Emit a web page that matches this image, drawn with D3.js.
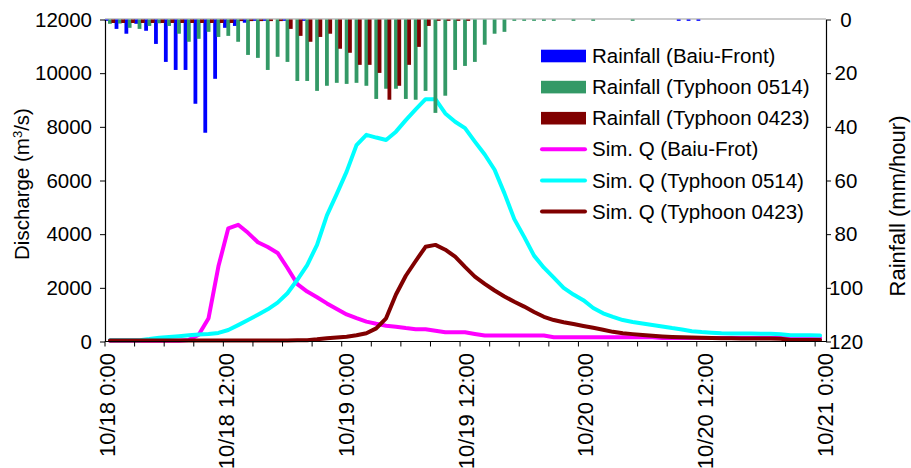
<!DOCTYPE html>
<html><head><meta charset="utf-8">
<script src="https://cdn.jsdelivr.net/npm/d3@7"></script>
<style>
body{margin:0;background:#fff}
svg{display:block}
text{font-family:"Liberation Sans",Arial,sans-serif;fill:#000}
</style>
</head><body>
<svg id="c" width="911" height="468"></svg>
<script>
// ---------- DATA ----------
const hours = d3.range(73); // 10/18 0:00 ... 10/21 0:00, hourly
const tickHours = [0, 12, 24, 36, 48, 60, 72];
const tickLabels = ["10/18 0:00", "10/18 12:00", "10/19 0:00", "10/19 12:00", "10/20 0:00", "10/20 12:00", "10/21 0:00"];
const leftTicks = [0, 2000, 4000, 6000, 8000, 10000, 12000];
const rightTicks = [0, 20, 40, 60, 80, 100, 120];

// Rainfall (mm/hour)
const rainBaiu = [0.5,3.5,5.3,1.6,4.2,9.1,15.8,18.8,18.8,31.4,42.2,22.1,3.1,2.4,1.2,0.5,0.5,0,0.5,0,0.5,
  0,0,0,0,0,0,0,0,0,0,0,0,0,0,0,0,0,0,0,0,0,0,0,0,0,0,0,0,0,0,0,0,0,0,0,0,0,
  0.5,0.5,0.5,
  0,0,0,0,0,0,0,0,0,0,0,0];
const rain0514 = [1.6,1.5,3.1,3.5,2.4,1.4,2.4,5.3,8.3,7.2,
  4.6,6.5,6.1,8.3,13.2,14.3,18.8,13.9,15.8,22.9,
  22.9,26.6,24.7,23.6,24.0,23.6,24.7,29.6,25.8,25.8,
  29.6,29.9,26.6,34.8,28.4,18.8,17.3,15.8,9.4,5.3,
  4.6,0.5,0.5,0.5,0.5,0.5,0,0.5,0,0.5,
  0,0,0,0.5,
  0,0,0,0,0,0,0,0,0,0,0,0,0,0,0,0,0,0,0];
const rain0423 = [1.3,1.3,1.3,1.3,1.3,1.3,1.3,1.3,1.3,1.3,1.3,1.3,1.3,
  0.6,0.6,0.6,0.6,0.6,
  3.5,6.1,8.3,6.5,5.3,10.9,12.4,16.9,16.9,19.9,29.9,24.7,16.9,10.2,2.4,
  0.5,0.5,0.5,0.5,
  0,0,0,0,0,0,0,0,0,0,0,0,0,0,0,0,0,0,0,0,0,0,0,0,0,0,0,0,0,0,0,0,0,0,0,0];

// Simulated discharge (m3/s)
const qBaiu = [30,30,30,30,30,30,30,30,60,250,
  870,2800,4220,4350,4050,3700,3520,3300,2740,2140,
  1860,1650,1420,1210,1010,870,740,660,590,550,
  500,460,455,400,345,345,345,280,
  220,220,220,220,220,220,220,
  160,160,160,160,160,160,160,160,160,160,160,
  130,130,130,130,130,130,130,130,130,130,130,130,130,130,130,130,130];
const q0514 = [50,50,50,50,90,140,170,200,230,260,
  280,320,430,610,800,1000,1200,1450,1800,2300,
  2850,3600,4700,5500,6330,7320,7700,7600,7510,7820,
  8250,8650,9030,9030,8500,8190,7950,7450,6970,6400,
  5520,4560,3900,3200,2750,2380,2000,1750,1540,1250,
  1050,920,800,730,670,615,560,500,450,380,
  350,330,305,300,300,295,290,285,270,235,
  230,230,225];
const q0423 = [40,40,40,40,40,40,40,40,40,40,40,40,40,40,40,40,40,40,40,45,
  50,80,120,150,180,230,305,490,865,1750,
  2450,3000,3530,3600,3420,3160,2780,2420,2150,1900,
  1680,1480,1300,1100,920,800,720,650,580,510,
  440,360,310,275,245,215,190,170,155,145,
  138,128,120,118,115,112,110,108,100,60,
  56,56,56];

const barSeries = [
  {name: "Rainfall (Baiu-Front)", values: rainBaiu, color: "#0000FF", off: -3.3},
  {name: "Rainfall (Typhoon 0514)", values: rain0514, color: "#339966", off: 0},
  {name: "Rainfall (Typhoon 0423)", values: rain0423, color: "#800000", off: 3.3}
];
const lineSeries = [
  {name: "Sim. Q (Baiu-Frot)", values: qBaiu, color: "#FF00FF"},
  {name: "Sim. Q (Typhoon 0514)", values: q0514, color: "#00FFFF"},
  {name: "Sim. Q (Typhoon 0423)", values: q0423, color: "#800000"}
];

// ---------- LAYOUT ----------
const X0 = 105, X1 = 826, Y0 = 19.5, Y1 = 341.5;
const FS = 20.5;
const svg = d3.select("#c");

const xb = d3.scaleBand().domain(hours).range([X0, X1 - 1]).paddingInner(0).paddingOuter(0);
const xc = i => xb(i) + xb.bandwidth() / 2;
const xl = d3.scaleLinear().domain([0, 72]).range([107, 825]);
const yL = d3.scaleLinear().domain([0, 12000]).range([Y1, Y0]);
const yR = d3.scaleLinear().domain([0, 120]).range([Y0, Y1]);

// top border of plot area
svg.append("line").attr("x1", X0).attr("x2", X1).attr("y1", Y0 - 0.5).attr("y2", Y0 - 0.5)
  .attr("stroke", "#999").attr("stroke-width", 1.2);

// lines
const line = d3.line().x((d, i) => xc(i)).y(d => yL(d));
svg.append("g").selectAll("path").data(lineSeries).join("path")
  .attr("d", d => line(d.values))
  .attr("fill", "none").attr("stroke", d => d.color)
  .attr("stroke-width", 4).attr("stroke-linejoin", "round").attr("stroke-linecap", "round");

// bars (hanging from the top, reversed right axis)
const BW = 3.8;
barSeries.forEach(s => {
  svg.append("g").selectAll("rect").data(s.values).join("rect")
    .attr("x", (d, i) => xc(i) + s.off - BW / 2)
    .attr("y", yR(0))
    .attr("width", BW)
    .attr("height", d => Math.max(0, yR(d) - yR(0)))
    .attr("fill", s.color);
});

// left axis
const gL = svg.append("g").attr("transform", `translate(${X0},0)`)
  .call(d3.axisLeft(yL).tickValues(leftTicks).tickFormat(d3.format("d")).tickSize(5).tickSizeOuter(0).tickPadding(8));
// right axis
const gR = svg.append("g").attr("transform", `translate(${X1},0)`)
  .call(d3.axisRight(yR).tickValues(rightTicks).tickFormat(d3.format("d")).tickSize(5).tickSizeOuter(0).tickPadding(8));
gR.selectAll(".tick text").attr("text-anchor", "middle").attr("x", 20);
[gL, gR].forEach(g => {
  g.select(".domain").attr("stroke", "#000").attr("stroke-width", 1.2);
  g.selectAll(".tick line").attr("stroke", "#000");
  g.selectAll(".tick text").attr("font-size", FS).attr("font-family", '"Liberation Sans",Arial,sans-serif').attr("fill", "#000");
});

// bottom axis
svg.append("line").attr("x1", X0).attr("x2", X1).attr("y1", Y1).attr("y2", Y1)
  .attr("stroke", "#000").attr("stroke-width", 1.2);
svg.append("g").selectAll("line").data(hours.filter(h => h % 3 === 0)).join("line")
  .attr("x1", d => xb(d)).attr("x2", d => xb(d))
  .attr("y1", Y1).attr("y2", Y1 + 5).attr("stroke", "#000");
svg.append("g").selectAll("text").data(tickHours).join("text")
  .attr("transform", d => `translate(${xl(d)},353) rotate(-90)`)
  .attr("text-anchor", "end").attr("dy", "0.35em")
  .attr("font-size", 22)
  .text((d, i) => tickLabels[i]);

// axis titles
const tl = svg.append("text").attr("transform", "translate(22,184) rotate(-90)")
  .attr("text-anchor", "middle").attr("dy", "0.35em").attr("font-size", FS);
tl.append("tspan").text("Discharge (m");
tl.append("tspan").attr("dy", -7).attr("font-size", 13).text("3");
tl.append("tspan").attr("dy", 7).text("/s)");

svg.append("text").attr("transform", "translate(897,206) rotate(-90)")
  .attr("text-anchor", "middle").attr("dy", "0.35em").attr("font-size", 22)
  .text("Rainfall (mm/hour)");

// legend
const legendItems = barSeries.map(s => ({name: s.name, color: s.color, type: "bar"}))
  .concat(lineSeries.map(s => ({name: s.name, color: s.color, type: "line"})));
const lg = svg.append("g");
legendItems.forEach((d, i) => {
  const cy = 56 + i * 31.1;
  if (d.type === "bar") {
    lg.append("rect").attr("x", 541).attr("y", cy - 6.3).attr("width", 45).attr("height", 12.6).attr("fill", d.color);
  } else {
    lg.append("line").attr("x1", 542).attr("x2", 585).attr("y1", cy).attr("y2", cy)
      .attr("stroke", d.color).attr("stroke-width", 4).attr("stroke-linecap", "round");
  }
  lg.append("text").attr("x", 592).attr("y", cy).attr("dy", "0.35em").attr("font-size", FS).text(d.name);
});
</script>
</body></html>
